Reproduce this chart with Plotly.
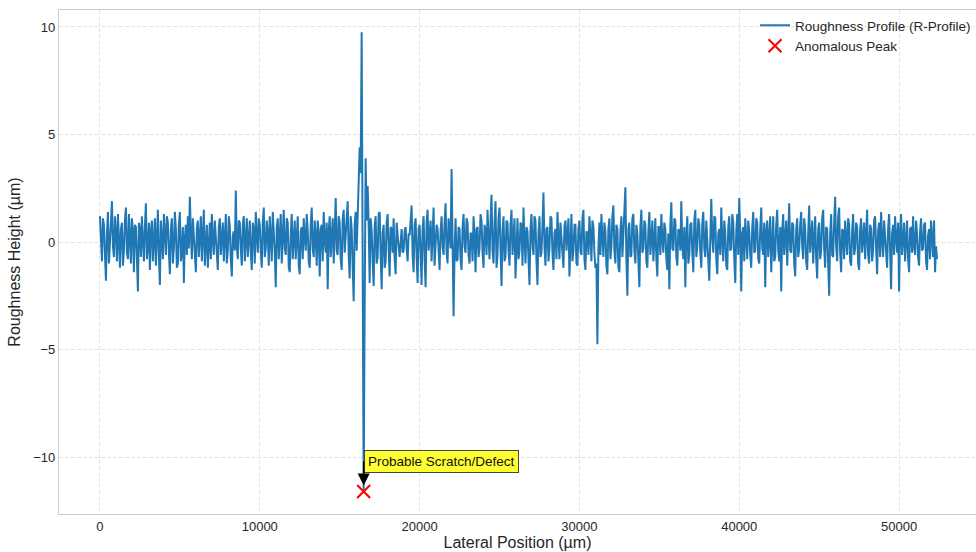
import plotly.graph_objects as go

# Sampling step along the profile (µm)
step_um = 62.5

# Roughness heights (µm), one per sample, starting at 0 µm (40 samples per row = 2500 µm)
height_um = [
    1.2, 0.3, -0.9, 1.1, 0.8, -0.6, -1.8, 0.4, 1.4, -1.0, -0.3, 0.9, 1.9, -0.2, -0.7, 1.2, 0.5, -0.9, 1.3, -0.4,
    -1.2, 0.6, 0.9, -1.1, -0.4, 1.0, 1.6, -0.5, -0.8, 1.3, 0.2, -1.0, 1.1, 0.5, -1.4, 0.8, 0.7, -0.6, -2.3, 0.9,
    0.6, -0.7, 1.2, 0.1, -0.9, 0.7, 1.8, -0.8, -0.2, 0.9, -1.3, 0.5, 1.0, -0.9, 0.4, 1.1, -1.1, 0.2, 1.5, -0.6,
    -2.0, 1.0, 0.3, -0.8, 1.3, 0.2, -0.6, 1.2, 0.9, -0.5, -1.5, 0.6, 1.1, -1.0, -0.3, 1.4, 0.6, -1.2, -1.0, 0.8,
    1.4, -0.9, -0.5, 0.7, -1.9, 0.2, 0.8, -0.6, 1.2, -0.3, 2.1, 0.4, -0.8, 1.1, 0.3, -1.0, -1.4, 0.6, 1.0, -0.7,
    0.5, 1.2, -0.9, 0.3, 1.5, -1.1, -0.2, 0.8, -1.2, 0.4, 0.9, -0.8, 1.3, 0.1, -0.6, 1.0, 0.2, -0.9, -1.3, 0.7,
    1.1, -0.6, 0.4, 0.9, -0.9, 0.5, 1.3, -1.0, -0.4, 1.2, 0.7, -0.8, -1.6, 0.3, 0.5, -0.4, 2.4, -0.2, -0.8, 1.0,
    0.9, -0.3, -1.1, 0.8, 1.2, -0.9, 0.2, 1.1, -0.7, 0.4, 1.0, -0.5, -1.3, 0.9, 0.6, -1.0, 1.4, 0.3, -0.5, 1.1,
    0.8, -0.4, -1.2, 0.9, 1.6, -0.7, -0.3, 1.0, 0.4, -1.1, 1.2, 0.2, -0.9, 1.4, 0.6, -0.5, -2.1, 0.7, 1.1, -0.8,
    0.3, 1.3, -1.0, 0.5, 1.5, -0.3, -0.6, 1.1, 0.9, -1.2, -1.4, 0.4, 1.3, -0.8, 0.1, 1.0, -0.8, 0.6, 1.2, -1.1,
    -1.5, 0.5, 0.7, -0.8, 1.1, 0.2, -0.4, 1.3, 0.5, -0.9, -1.2, 0.8, 1.6, -0.3, -0.7, 1.0, 0.3, -1.1, 1.0, 0.4,
    -1.6, 0.6, 0.8, -0.9, 1.4, 0.1, -0.5, 0.9, -2.2, 0.5, 1.2, -0.7, 0.4, 1.1, -1.0, 0.3, 2.05, -0.4, -0.6, 1.2,
    0.9, -0.8, -1.3, 1.1, 1.5, -0.5, 0.2, 0.9, 1.9, -0.6, -1.7, 1.2, 0.6, -1.2, -2.75, 0.8, 1.4, -0.4, 2.0, 2.8,
    4.4, 3.2, 9.75, -0.5, -11.6, -3.0, 3.9, 1.0, 2.6, 0.8, -1.9, 1.1, 0.5, -0.9, -2.05, 0.7, 1.2, -1.0, -0.7, 1.3,
    1.4, -0.6, -2.2, 0.4, 0.8, -1.2, -0.9, 0.9, 1.3, -0.3, -1.6, 0.7, 0.6, -0.5, 1.1, -0.8, -1.5, 0.9, 0.5, -0.2,
    -0.7, 0.3, 0.6, -0.5, -0.4, 0.5, 0.7, -0.3, -0.9, 0.4, 0.3, 1.0, 1.7, -0.6, -1.4, 0.8, 1.1, -0.7, -1.9, 0.6,
    0.8, -0.5, -2.0, 0.6, 1.2, -0.8, -2.1, 0.9, 1.5, -0.4, 0.2, 1.0, -0.9, 0.3, 1.6, -1.1, -0.4, 0.8, 0.6, -0.7,
    -1.3, 0.5, 1.2, -0.2, -0.6, 0.9, 1.8, -0.5, -1.0, 1.1, 0.4, -0.3, 3.4, 0.2, -3.45, -0.4, 1.1, -0.9, -0.8, 0.7,
    0.6, -0.8, -1.3, 0.7, 1.3, -0.2, -0.5, 1.1, 0.9, -0.6, -1.0, 0.4, 0.4, -0.9, 1.2, 0.3, -1.4, 0.6, 0.7, -0.7,
    -0.3, 1.3, 1.0, -0.5, -1.2, 0.8, 0.5, -0.6, 1.5, 0.2, -0.8, 1.0, 2.2, -0.4, -1.0, 0.9, 1.9, -1.2, -0.6, 1.1,
    1.6, -0.3, -2.05, 0.5, 1.2, -0.9, -0.7, 1.0, 0.9, -0.4, -1.1, 0.8, 1.5, -0.6, 0.3, 1.1, -1.7, 0.2, 1.1, -0.8,
    -0.4, 0.9, 0.8, -1.1, 1.6, 0.1, -1.0, 0.7, 0.5, -0.8, -2.0, 0.6, 1.3, -0.2, -0.6, 1.2, 1.0, -0.9, -2.0, 0.4,
    1.2, -0.7, -0.5, 0.8, 2.3, -0.2, -1.1, 0.6, 0.7, -0.9, -0.3, 1.2, 1.1, -0.5, -1.3, 0.4, 0.6, -0.8, 1.4, 0.2,
    -0.8, 0.9, 0.3, -0.6, -1.2, 0.7, 1.0, -0.4, 0.5, 1.1, -1.6, 0.3, 1.3, -0.9, -0.4, 0.8, 0.8, -1.0, -1.1, 0.6,
    1.0, -0.4, -0.6, 1.1, 1.5, -0.8, -1.3, 0.5, 0.4, -0.6, 1.2, 0.3, -0.9, 1.0, 0.7, -0.5, -1.2, -1.0, -4.75, -0.3,
    0.9, -0.6, 1.3, 0.2, -0.7, 0.9, 0.5, -1.1, -1.5, 0.6, 1.1, -0.8, -0.2, 1.2, 1.7, -0.4, -1.0, 0.8, 0.6, -1.2,
    -1.4, 0.5, 1.2, -0.7, 0.3, 0.9, 2.55, -0.8, -2.5, 0.6, 0.9, -0.7, -0.6, 1.1, 1.3, -0.4, -1.0, 0.8, 0.4, -0.9,
    -2.1, 0.7, 1.5, -0.5, -0.3, 1.0, 0.8, -0.9, -1.2, 0.5, 1.4, -0.6, 0.2, 1.0, -0.9, 0.4, 1.1, -0.8, -1.6, 0.7,
    0.7, -0.6, 1.3, 0.1, -0.5, 0.9, 0.6, -0.8, -1.3, 0.4, -2.2, 0.8, 1.85, -0.3, -0.4, 1.1, 1.0, -0.7, -1.1, 0.6,
    0.5, -0.4, 1.9, -0.2, -0.8, 0.7, -2.1, 0.3, 1.2, -1.0, -0.6, 0.8, 0.9, -0.5, -1.4, 1.0, 1.5, -0.7, -0.2, 1.1,
    0.8, -0.5, -1.2, 0.9, 1.4, -0.3, -0.7, 1.0, 0.3, -0.9, -1.8, 0.6, 2.0, 0.2, -0.5, 1.2, 1.1, -0.8, -1.5, 0.4,
    0.6, -0.6, 1.6, 0.1, -0.9, 1.0, 0.4, -1.1, -1.3, 0.7, 1.2, -0.4, -0.3, 1.3, 0.9, -0.8, -1.9, 0.5, 1.3, -0.6,
    2.05, 0.3, -2.3, 0.4, 0.7, -0.9, 1.1, 0.2, -0.8, 1.0, 0.5, -0.6, -1.2, 0.7, 1.4, -0.5, -0.4, 1.1, 0.9, -0.8,
    -1.0, 0.6, 1.6, -0.3, -0.6, 0.9, -2.1, 0.5, 1.0, -0.7, 0.3, 1.2, -1.4, 0.4, 1.2, -0.9, -0.7, 0.8, 1.5, -0.4,
    -0.9, 0.7, -2.3, 0.5, 1.3, -0.6, 0.4, 1.0, -1.1, 0.3, 1.8, -0.4, -0.5, 0.9, 0.8, -1.0, -1.6, 0.6, 1.1, -0.7,
    -0.3, 0.8, 1.4, -0.2, -0.8, 1.1, 0.6, -0.9, -1.3, 0.4, 1.7, -0.5, 0.2, 1.0, -1.0, 0.5, 1.2, -0.8, -1.7, 0.6,
    0.9, -0.8, -0.4, 1.1, 1.5, -0.3, -1.2, 0.7, 0.6, -1.0, -2.5, 0.4, 1.3, -0.6, -0.7, 0.9, 2.1, -0.2, -0.9, 1.2,
    1.6, -0.5, -1.4, 0.6, 0.5, -0.8, 1.0, 0.2, -0.6, 1.1, 0.8, -0.9, -1.1, 0.5, 1.3, -0.6, -0.3, 0.9, 0.7, -1.0,
    -1.3, 0.6, 1.1, -0.5, 0.4, 0.9, -0.8, 0.3, 1.5, -0.6, -1.0, 0.8, 0.6, -0.9, -0.4, 1.0, 1.2, -0.3, -1.5, 0.5,
    0.9, -0.7, 1.4, 0.1, -0.7, 1.0, 0.3, -0.8, -1.2, 0.6, 1.3, -0.4, -2.2, 0.4, 0.8, -0.6, 1.2, 0.2, -0.5, 0.9,
    -2.3, 0.5, 1.3, -0.6, 0.5, 0.9, -0.9, 0.4, 1.0, -0.8, -1.4, 0.6, 0.7, -0.5, 1.2, -0.2, -0.6, 1.0, 0.4, -0.7,
    -1.1, 0.5, 1.1, -0.4, -0.3, 0.8, 0.9, -0.9, -1.3, 0.3, 0.6, -0.8, 1.0, 0.2, -0.7, 1.0, -1.4, -0.2, -0.8,
]
position_um = [i * step_um for i in range(len(height_um))]

# Flagged anomaly
peak_x = [16500]
peak_y = [-11.6]
peak_label = "Probable Scratch/Defect"

x_ticks = [0, 10000, 20000, 30000, 40000, 50000]
y_ticks = [-10, -5, 0, 5, 10]

FONT = "Liberation Sans, Arial, sans-serif"
TEXT = "#262626"
GRID = "#e3e3e3"
SPINE = "#cccccc"

fig = go.Figure()
fig.add_trace(go.Scatter(
    x=position_um, y=height_um, mode="lines",
    name="Roughness Profile (R-Profile)",
    line=dict(color="#1f77b4", width=2),
))
fig.add_trace(go.Scatter(
    x=peak_x, y=peak_y, mode="markers",
    name="Anomalous Peak",
    marker=dict(symbol="x-thin", size=13, color="red",
                line=dict(color="red", width=2)),
))

fig.add_annotation(
    x=peak_x[0], y=peak_y[0], text=peak_label,
    showarrow=True, arrowhead=2, arrowsize=1.6, arrowwidth=1.5,
    arrowcolor="black", ax=0, ay=-30, xanchor="left", yanchor="middle",
    bgcolor="#ffff33", bordercolor="#444444", borderwidth=1, borderpad=3,
    font=dict(family=FONT, size=13.5, color="#111111"),
    standoff=6,
)

fig.update_layout(
    width=976, height=552,
    margin=dict(l=59, r=0, t=10, b=38),
    paper_bgcolor="white", plot_bgcolor="white",
    font=dict(family=FONT, size=13, color=TEXT),
    showlegend=True,
    legend=dict(x=1.0, y=1.0, xanchor="right", yanchor="top",
                bgcolor="rgba(0,0,0,0)", font=dict(size=13.5, color=TEXT),
                itemwidth=30, tracegroupgap=0),
)
fig.update_xaxes(
    range=[-2562, 54812], tickvals=x_ticks, ticktext=[str(v) for v in x_ticks],
    showgrid=True, gridcolor=GRID, griddash="4px,2px", gridwidth=1,
    zeroline=False, showline=True, linecolor=SPINE, linewidth=1.2, mirror=True,
    ticks="", tickfont=dict(size=13, color=TEXT),
    title=dict(text="Lateral Position (µm)", font=dict(size=16, color=TEXT), standoff=4),
)
fig.update_yaxes(
    range=[-12.65, 10.79], tickvals=y_ticks,
    ticktext=["\u221210", "\u22125", "0", "5", "10"],
    showgrid=True, gridcolor=GRID, griddash="4px,2px", gridwidth=1,
    zeroline=False, showline=True, linecolor=SPINE, linewidth=1.2,
    ticks="", tickfont=dict(size=13, color=TEXT),
    title=dict(text="Roughness Height (µm)", font=dict(size=16, color=TEXT), standoff=8),
)

fig.write_html("out.html")
